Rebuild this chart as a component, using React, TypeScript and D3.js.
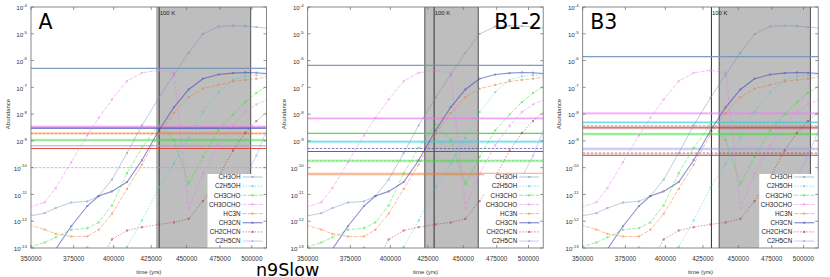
import React from 'react';
import * as d3 from 'd3';

// model time grid (yrs), shared by every panel
const times = [349000, 357800, 364200, 373500, 383300, 390400, 398900, 408700, 418700, 430300, 440900, 451500, 462000, 473800, 485000, 494700, 503700, 514000];

// abundances (null = below the axis, not readable)
const CH3OH = [1.55e-12, 2.0e-12, 3.1e-12, 5.0e-12, 5.5e-12, 8.7e-12, 3.6e-11, 3.5e-10, 3.8e-9, 4.1e-8, 3.0e-7, 1.95e-6, 9.8e-6, 1.87e-5, 2.0e-5, 1.93e-5, 1.78e-5, 1.6e-5];
const C2H5OH = [null, null, null, 7e-14, 1.05e-13, 7e-14, 6e-14, 1.1e-13, 1.07e-12, 1.85e-11, 1.4e-10, 1.3e-9, 1.2e-8, 6.6e-8, 1.9e-7, 2.6e-7, 2.8e-7, 3.0e-7];
const CH3CHO = [1.07e-13, 1.6e-13, 2.5e-13, 4.8e-13, 5.5e-13, 9.0e-13, 3.9e-12, 6.2e-11, 5.5e-10, 4.0e-9, 1.1e-9, 2.5e-11, 2.5e-10, 2.5e-9, 9.8e-9, 2.8e-8, 6.2e-8, 1.2e-7];
const CH3OCHO = [3.3e-12, 5.1e-12, 1.7e-11, 1.6e-10, 1.6e-9, 7.2e-9, 3.5e-8, 1.7e-7, 3.5e-7, 4.3e-7, 3.5e-7, 3.1e-12, 5.9e-11, 6.8e-10, 3.7e-9, 1.2e-8, 2.3e-8, 3.7e-8];
const HC3N = [7.2e-13, 4.9e-13, 3.4e-13, 2.7e-13, 2.7e-13, 4.8e-13, 1.9e-12, 1.6e-11, 1.3e-10, 1.8e-9, 1.1e-8, 4.3e-8, 8.9e-8, 1.24e-7, 1.65e-7, 1.9e-7, 2.1e-7, 2.5e-7];
const CH3CN = [7e-15, 2.3e-14, 8.9e-14, 6.5e-13, 3.7e-12, 8.7e-12, 1.3e-11, 2.9e-11, 1.9e-10, 2.45e-9, 1.8e-8, 8.3e-8, 2.1e-7, 3.0e-7, 3.4e-7, 3.6e-7, 3.5e-7, 3.2e-7];
const CH2CHCN = [null, null, null, null, 5e-15, 2.5e-14, 2.1e-13, 4.5e-13, 6.0e-13, 7.6e-13, 9.0e-13, 1.23e-12, 5.6e-12, 4.5e-11, 4.4e-10, 2.0e-9, 5.5e-9, 1.4e-8];
const C2H5CN = [null, null, null, null, null, null, null, null, null, null, null, null, 4e-14, 4e-13, 3.9e-12, 4.3e-11, 2.8e-10, 4.0e-9];

const speciesNames = ['CH3OH', 'C2H5OH', 'CH3CHO', 'CH3OCHO', 'HC3N', 'CH3CN', 'CH2CHCN', 'C2H5CN'];
const speciesValues = [CH3OH, C2H5OH, CH3CHO, CH3OCHO, HC3N, CH3CN, CH2CHCN, C2H5CN];

const xTicks = [350000, 375000, 400000, 425000, 450000, 475000, 500000];
const yExponents = [-4, -5, -6, -7, -8, -9, -10, -11, -12, -13];

// panels
const panelNames = ['A', 'B1-2', 'B3'];
const warmStart = [428900, 422900, 436300];
const warmEnd = [499100, 461000, 505600];
const line100K = [430500, 429300, 430900];

// observed abundances (horizontal lines)
const obsA = [
  { sp: 'CH3OH', v: 5.1e-7, kind: 'solid' },
  { sp: 'CH3OCHO', v: 3.4e-9, kind: 'band' },
  { sp: 'CH3CN', v: 3.0e-9, kind: 'solid' },
  { sp: 'HC3N', v: 1.9e-9, kind: 'dband' },
  { sp: 'CH3CHO', v: 1.07e-9, kind: 'band' },
  { sp: 'C2H5CN', v: 6.6e-10, kind: 'solid' },
  { sp: 'red', v: 5.2e-10, kind: 'solid' },
  { sp: 'C2H5CN', v: 1.0e-10, kind: 'dashed' },
];
const obsB = [
  { sp: 'CH3OH', v: 6.6e-7, kind: 'solid' },
  { sp: 'CH3OCHO', v: 6.9e-9, kind: 'band' },
  { sp: 'CH3CHO', v: 1.9e-9, kind: 'solid' },
  { sp: 'C2H5OH', v: 9.3e-10, kind: 'band' },
  { sp: 'CH3CN', v: 5.2e-10, kind: 'dashed' },
  { sp: 'CH3CN', v: 4.0e-10, kind: 'solid' },
  { sp: 'CH3CHO', v: 1.8e-10, kind: 'dband' },
  { sp: 'HC3N', v: 5.8e-11, kind: 'band' },
];
const obsC = [
  { sp: 'CH3OH', v: 1.4e-6, kind: 'solid' },
  { sp: 'CH3OCHO', v: 1.07e-8, kind: 'band' },
  { sp: 'C2H5OH', v: 4.9e-9, kind: 'band' },
  { sp: 'HC3N', v: 3.7e-9, kind: 'dashed' },
  { sp: 'CH2CHCN', v: 3.1e-9, kind: 'band' },
  { sp: 'CH3CHO', v: 1.8e-9, kind: 'band' },
  { sp: 'C2H5CN', v: 5.0e-10, kind: 'band' },
  { sp: 'CH2CHCN', v: 3.5e-10, kind: 'dashed' },
  { sp: 'CH2CHCN', v: 2.9e-10, kind: 'solid' },
];
const panelObs = [obsA, obsB, obsC];

const colors: Record<string, string> = {
  CH3OH: '#6f93b9',
  C2H5OH: '#2fcfe0',
  CH3CHO: '#33e033',
  CH3OCHO: '#ea7cf2',
  HC3N: '#f07a32',
  CH3CN: '#4a4ab8',
  CH2CHCN: '#b02a2a',
  C2H5CN: '#9a9af2',
  red: '#e2402c',
};
const dashes: Record<string, string | undefined> = {
  CH3OH: undefined,
  C2H5OH: '1.5,1.5',
  CH3CHO: '4,1.5',
  CH3OCHO: '4,1.5',
  HC3N: '4,1.5',
  CH3CN: undefined,
  CH2CHCN: '1.5,1.5',
  C2H5CN: undefined,
};

const W = 830, H = 277;
const top = 7, bottom = 248;
const lefts = [31, 307.7, 582.7];
const width = 235.5;
const font = 'Liberation Sans, Arial, sans-serif';

function Panel({ idx }: { idx: number }) {
  const left = lefts[idx];
  const right = left + width;
  const x = d3.scaleLog().domain([350000, 512000]).range([left, right]);
  const y = d3.scaleLog().domain([1e-13, 1e-4]).range([bottom, top]);
  const clipId = 'clip' + idx;
  const rows = times.map((t, i) => i);
  const line = (vals: (number | null)[]) =>
    d3.line<number>()
      .defined(i => vals[i] != null)
      .x(i => x(times[i]))
      .y(i => y(vals[i] as number))(rows) || '';

  const legendLeft = right - 59;
  const legendTop = 174;
  const cx = (left + right) / 2;

  return (
    <g>
      <defs>
        <clipPath id={clipId}>
          <rect x={left} y={top} width={right - left} height={bottom - top} />
        </clipPath>
      </defs>
      <g clipPath={`url(#${clipId})`}>
        <rect x={x(warmStart[idx])} y={top} width={x(warmEnd[idx]) - x(warmStart[idx])} height={bottom - top} fill="#bebebe" />
        <line x1={x(warmStart[idx])} x2={x(warmStart[idx])} y1={top} y2={bottom} stroke={idx === 0 ? '#9a9a9a' : '#505050'} strokeWidth={1} />
        <line x1={x(warmEnd[idx])} x2={x(warmEnd[idx])} y1={top} y2={bottom} stroke="#505050" strokeWidth={1} />
        <line x1={x(line100K[idx])} x2={x(line100K[idx])} y1={top} y2={bottom} stroke="#333" strokeWidth={1} />

        {panelObs[idx].map((o, i) => {
          const yy = y(o.v);
          const c = colors[o.sp];
          return (
            <g key={i}>
              {(o.kind === 'band' || o.kind === 'dband') && (
                <line x1={left} x2={right} y1={yy} y2={yy} stroke={c} strokeOpacity={0.3} strokeWidth={2.8} />
              )}
              <line x1={left} x2={right} y1={yy} y2={yy} stroke={c}
                strokeWidth={o.kind === 'solid' ? 1.1 : 0.8}
                strokeOpacity={o.kind === 'band' ? 0.7 : 0.9}
                strokeDasharray={o.kind === 'dashed' || o.kind === 'dband' ? '2.5,1.5' : undefined} />
            </g>
          );
        })}

        {speciesNames.map((name, s) => {
          const vals = speciesValues[s];
          const c = colors[name];
          return (
            <g key={name} opacity={0.62}>
              <path d={line(vals)} fill="none" stroke={c} strokeWidth={name === 'CH3CN' ? 1.1 : 0.75}
                strokeDasharray={dashes[name]} />
              {vals.map((v, i) => v == null ? null : (
                <rect key={i} x={x(times[i]) - 1} y={y(v) - 1} width={2} height={2} fill={c} />
              ))}
            </g>
          );
        })}

        <rect x={legendLeft} y={legendTop} width={right - legendLeft} height={bottom - legendTop} fill="#fff" />
        {speciesNames.map((name, s) => {
          const yy = legendTop + 3 + s * 9.15;
          const c = colors[name];
          return (
            <g key={name}>
              <text x={right - 26} y={yy + 2.3} fontSize={6.3} fontFamily={font} textAnchor="end" fill="#222">{name}</text>
              <g opacity={0.7}>
                <line x1={right - 24} x2={right - 4} y1={yy} y2={yy} stroke={c} strokeWidth={name === 'CH3CN' ? 1.1 : 0.75} strokeDasharray={dashes[name]} />
                <rect x={right - 15} y={yy - 1} width={2} height={2} fill={c} />
              </g>
            </g>
          );
        })}
      </g>

      <rect x={left} y={top} width={right - left} height={bottom - top} fill="none" stroke="#6a6a6a" strokeWidth={0.8} />
      {yExponents.map(e => {
        const yy = y(Math.pow(10, e));
        return (
          <g key={e}>
            <line x1={left} x2={left + 3} y1={yy} y2={yy} stroke="#6a6a6a" strokeWidth={0.7} />
            <line x1={right - 3} x2={right} y1={yy} y2={yy} stroke="#6a6a6a" strokeWidth={0.7} />
            <text x={left - 4} y={yy + 3.2} fontSize={6.2} fontFamily={font} textAnchor="end" fill="#333">
              10<tspan dy={-3.4} fontSize={4.4}>{e}</tspan>
            </text>
          </g>
        );
      })}
      {xTicks.map(t => (
        <g key={t}>
          <line x1={x(t)} x2={x(t)} y1={bottom} y2={bottom - 3} stroke="#6a6a6a" strokeWidth={0.7} />
          <line x1={x(t)} x2={x(t)} y1={top} y2={top + 3} stroke="#6a6a6a" strokeWidth={0.7} />
          <text x={x(t)} y={261} fontSize={6.4} fontFamily={font} textAnchor="middle" fill="#333">{t}</text>
        </g>
      ))}
      <text x={cx} y={274} fontSize={6} fontFamily={font} textAnchor="middle" fill="#333">time (yrs)</text>
      <text transform={`translate(${left - 21.5},114) rotate(-90)`} fontSize={6} fontFamily={font} textAnchor="middle" fill="#333">Abundance</text>
      <text x={x(line100K[idx]) + 0.5} y={15} fontSize={6} fontFamily={font} fill="#222">100 K</text>
      {idx === 1 ? (
        <text x={right - 1.5} y={28.5} fontSize={20.5} fontFamily="DejaVu Sans, sans-serif" textAnchor="end" fill="#000">{panelNames[idx]}</text>
      ) : (
        <text x={left + 7.5} y={28.5} fontSize={20.5} fontFamily="DejaVu Sans, sans-serif" fill="#000">{panelNames[idx]}</text>
      )}
    </g>
  );
}

export default function App() {
  return (
    <div style={{ position: 'absolute', left: 0, top: 0 }}>
      <svg width={W} height={H} style={{ display: 'block', background: '#fff' }}>
        {panelNames.map((p, i) => <Panel key={p} idx={i} />)}
        <text x={256} y={275.5} fontSize={17.5} fontFamily="DejaVu Sans, sans-serif" fill="#000">n9Slow</text>
      </svg>
    </div>
  );
}
